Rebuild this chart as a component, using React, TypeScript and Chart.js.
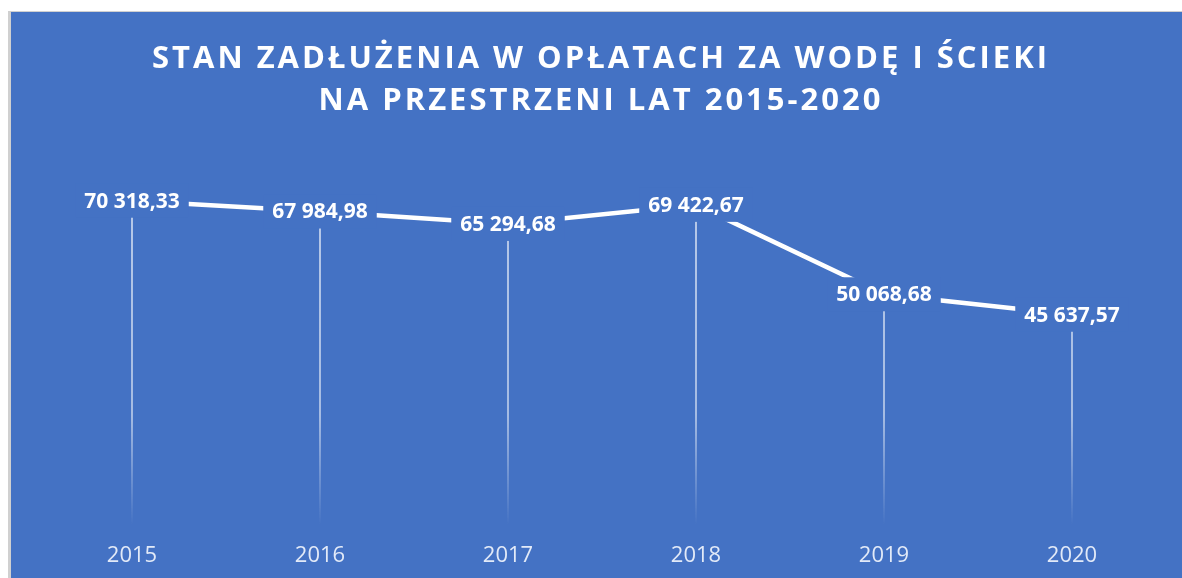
import React, { useEffect, useRef } from "react";
import { Chart, registerables } from "chart.js";

Chart.register(...registerables);

const categories = ["2015", "2016", "2017", "2018", "2019", "2020"];
const debtValues = [70318.33, 67984.98, 65294.68, 69422.67, 50068.68, 45637.57];
const titleLines = ["STAN ZADŁUŻENIA W OPŁATACH ZA WODĘ I ŚCIEKI", "NA PRZESTRZENI LAT 2015-2020"];

const BG = "#4472C4";

function formatPl(n: number): string {
  const [intPart, dec] = n.toFixed(2).split(".");
  const withSpaces = intPart.replace(/\B(?=(\d{3})+(?!\d))/g, " ");
  return withSpaces + "," + dec;
}

const decorPlugin = {
  id: "decor",
  beforeDatasetsDraw(chart: any) {
    const { ctx, chartArea } = chart;
    const meta = chart.getDatasetMeta(0);
    ctx.save();
    const grad = ctx.createLinearGradient(0, chartArea.top, 0, chartArea.bottom);
    grad.addColorStop(0, "rgba(255,255,255,0.85)");
    grad.addColorStop(0.7, "rgba(255,255,255,0.7)");
    grad.addColorStop(1, "rgba(255,255,255,0)");
    ctx.strokeStyle = grad;
    ctx.lineWidth = 1.5;
    meta.data.forEach((pt: any) => {
      ctx.beginPath();
      ctx.moveTo(pt.x, pt.y);
      ctx.lineTo(pt.x, chartArea.bottom);
      ctx.stroke();
    });
    ctx.restore();
  },
  afterDatasetsDraw(chart: any) {
    const { ctx } = chart;
    const meta = chart.getDatasetMeta(0);
    const data = chart.data.datasets[0].data as number[];
    ctx.save();
    ctx.font = 'bold 21px "Open Sans"';
    ctx.textAlign = "center";
    ctx.textBaseline = "middle";
    meta.data.forEach((pt: any, i: number) => {
      const text = formatPl(data[i]);
      const w = ctx.measureText(text).width + 18;
      const h = 34;
      ctx.fillStyle = BG;
      ctx.fillRect(pt.x - w / 2, pt.y - h / 2, w, h);
      ctx.fillStyle = "#ffffff";
      ctx.fillText(text, pt.x, pt.y + 1);
    });
    ctx.restore();
  },
  afterDraw(chart: any) {
    const { ctx } = chart;
    ctx.save();
    ctx.font = 'bold 31px "Open Sans"';
    (ctx as any).letterSpacing = "3px";
    ctx.textAlign = "center";
    ctx.textBaseline = "middle";
    ctx.fillStyle = "#ffffff";
    ctx.fillText(titleLines[0], 590, 47);
    ctx.fillText(titleLines[1], 590, 89);
    ctx.restore();
  },
};

export default function App() {
  const ref = useRef<HTMLCanvasElement | null>(null);
  useEffect(() => {
    document.documentElement.style.overflow = "hidden";
    document.body.style.overflow = "hidden";
    if (!ref.current) return;
    const chart = new Chart(ref.current, {
      type: "line",
      data: {
        labels: categories,
        datasets: [
          {
            data: debtValues,
            borderColor: "#ffffff",
            borderWidth: 4.5,
            pointRadius: 0,
            tension: 0,
          },
        ],
      },
      options: {
        animation: false,
        responsive: false,
        maintainAspectRatio: false,
        devicePixelRatio: 1,
        layout: { padding: { top: 144, left: 27, right: 16, bottom: -8 } },
        plugins: {
          legend: { display: false },
          title: { display: false },
          tooltip: { enabled: false },
        },
        scales: {
          x: {
            type: "category",
            offset: true,
            grid: { display: false, drawTicks: false },
            border: { display: false },
            ticks: {
              color: "rgba(240,244,252,0.92)",
              font: { family: '"Open Sans"', size: 22 },
              padding: 17,
            },
          },
          y: {
            display: false,
            min: 0,
            max: 80000,
          },
        },
      },
      plugins: [decorPlugin],
    });
    return () => chart.destroy();
  }, []);

  return (
    <div
      style={{
        position: "fixed",
        left: 8,
        top: 11,
        right: 0,
        bottom: 0,
        boxSizing: "border-box",
        borderTop: "1px solid #d0d0d0",
        borderLeft: "3px solid #d0d0d0",
        background: BG,
        overflow: "hidden",
      }}
    >
      <canvas ref={ref} width={1171} height={566} style={{ display: "block" }} />
    </div>
  );
}
